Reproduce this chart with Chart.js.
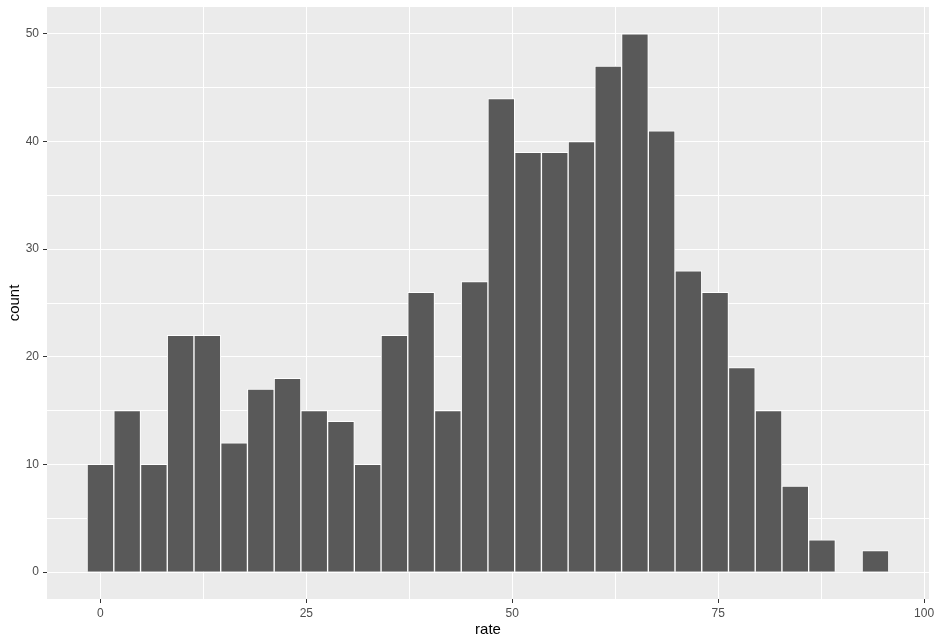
<!DOCTYPE html>
<html>
<head>
<meta charset="utf-8">
<title>rate histogram</title>
<script src="https://cdn.jsdelivr.net/npm/chart.js@4/dist/chart.umd.min.js"></script>
<style>
  html, body { margin: 0; padding: 0; background: #ffffff; }
  #wrap { width: 936px; height: 644px; }
</style>
</head>
<body>
<div id="wrap"><canvas id="histChart" width="936" height="644"></canvas></div>
<script>
// Bin centres (rate) and counts
const binCenters = [0, 3.245, 6.49, 9.734, 12.979, 16.224, 19.469, 22.714, 25.959, 29.203,
    32.448, 35.693, 38.938, 42.183, 45.428, 48.672, 51.917, 55.162, 58.407, 61.652,
    64.897, 68.141, 71.386, 74.631, 77.876, 81.121, 84.366, 87.61, 90.855, 94.1];
const counts = [10, 15, 10, 22, 22, 12, 17, 18, 15, 14,
    10, 22, 26, 15, 27, 44, 39, 39, 40, 47,
    50, 41, 28, 26, 19, 15, 8, 3, 0, 2];

// Axis ticks: grid every half step, labels on the majors
const xGridTicks = [0, 12.5, 25, 37.5, 50, 62.5, 75, 87.5, 100];
const xLabelTicks = [0, 25, 50, 75, 100];
const yGridTicks = [0, 5, 10, 15, 20, 25, 30, 35, 40, 45, 50];
const yLabelTicks = [0, 10, 20, 30, 40, 50];

const PANEL_BG = '#EBEBEB';
const BAR_FILL = '#595959';
const TEXT_GREY = '#4D4D4D';
const FONT = '"Liberation Sans", Arial, sans-serif';

// Grey panel behind the grid
const panelBackground = {
    id: 'panelBackground',
    beforeDraw(chart) {
        const { ctx, chartArea } = chart;
        ctx.save();
        ctx.fillStyle = PANEL_BG;
        ctx.fillRect(chartArea.left, chartArea.top,
            chartArea.right - chartArea.left, chartArea.bottom - chartArea.top);
        ctx.restore();
    }
};

function setTicks(list) {
    return scale => { scale.ticks = list.map(v => ({ value: v })); };
}

const ctx = document.getElementById('histChart').getContext('2d');
new Chart(ctx, {
    type: 'bar',
    data: {
        datasets: [{
            data: binCenters.map((x, i) => ({ x: x, y: counts[i] })),
            backgroundColor: BAR_FILL,
            borderColor: '#ffffff',
            borderWidth: 1,
            barPercentage: 1,
            categoryPercentage: 1
        }]
    },
    options: {
        responsive: false,
        animation: false,
        layout: { padding: { top: 7, right: 7, left: 0, bottom: 0 } },
        plugins: {
            legend: { display: false },
            tooltip: { enabled: false }
        },
        scales: {
            x: {
                type: 'linear',
                min: -6.49,
                max: 100.6,
                offset: false,
                afterBuildTicks: setTicks(xGridTicks),
                afterFit: scale => {
                    scale.height = 45;
                    scale.paddingLeft = 0;
                    scale.paddingRight = 0;
                },
                border: { display: false },
                grid: {
                    offset: false,
                    color: '#ffffff',
                    lineWidth: 1,
                    tickLength: 4,
                    tickColor: c => xLabelTicks.includes(c.tick.value) ? '#333333' : 'rgba(0,0,0,0)'
                },
                ticks: {
                    autoSkip: false,
                    maxRotation: 0,
                    padding: 3,
                    color: TEXT_GREY,
                    font: { family: FONT, size: 12 },
                    callback: v => xLabelTicks.includes(v) ? String(v) : ''
                },
                title: {
                    display: true,
                    text: 'rate',
                    color: '#000000',
                    font: { family: FONT, size: 15 },
                    padding: { top: 0, bottom: 5 }
                }
            },
            y: {
                type: 'linear',
                min: -2.5,
                max: 52.5,
                afterBuildTicks: setTicks(yGridTicks),
                afterFit: scale => {
                    scale.width = 47;
                    scale.paddingTop = 0;
                    scale.paddingBottom = 0;
                },
                border: { display: false },
                grid: {
                    color: '#ffffff',
                    lineWidth: 1,
                    tickLength: 4,
                    tickColor: c => yLabelTicks.includes(c.tick.value) ? '#333333' : 'rgba(0,0,0,0)'
                },
                ticks: {
                    autoSkip: false,
                    padding: 4,
                    color: TEXT_GREY,
                    font: { family: FONT, size: 12 },
                    callback: v => yLabelTicks.includes(v) ? String(v) : ''
                },
                title: {
                    display: true,
                    text: 'count',
                    color: '#000000',
                    font: { family: FONT, size: 15 },
                    padding: { top: 6, bottom: 0 }
                }
            }
        }
    },
    plugins: [panelBackground]
});
</script>
</body>
</html>
